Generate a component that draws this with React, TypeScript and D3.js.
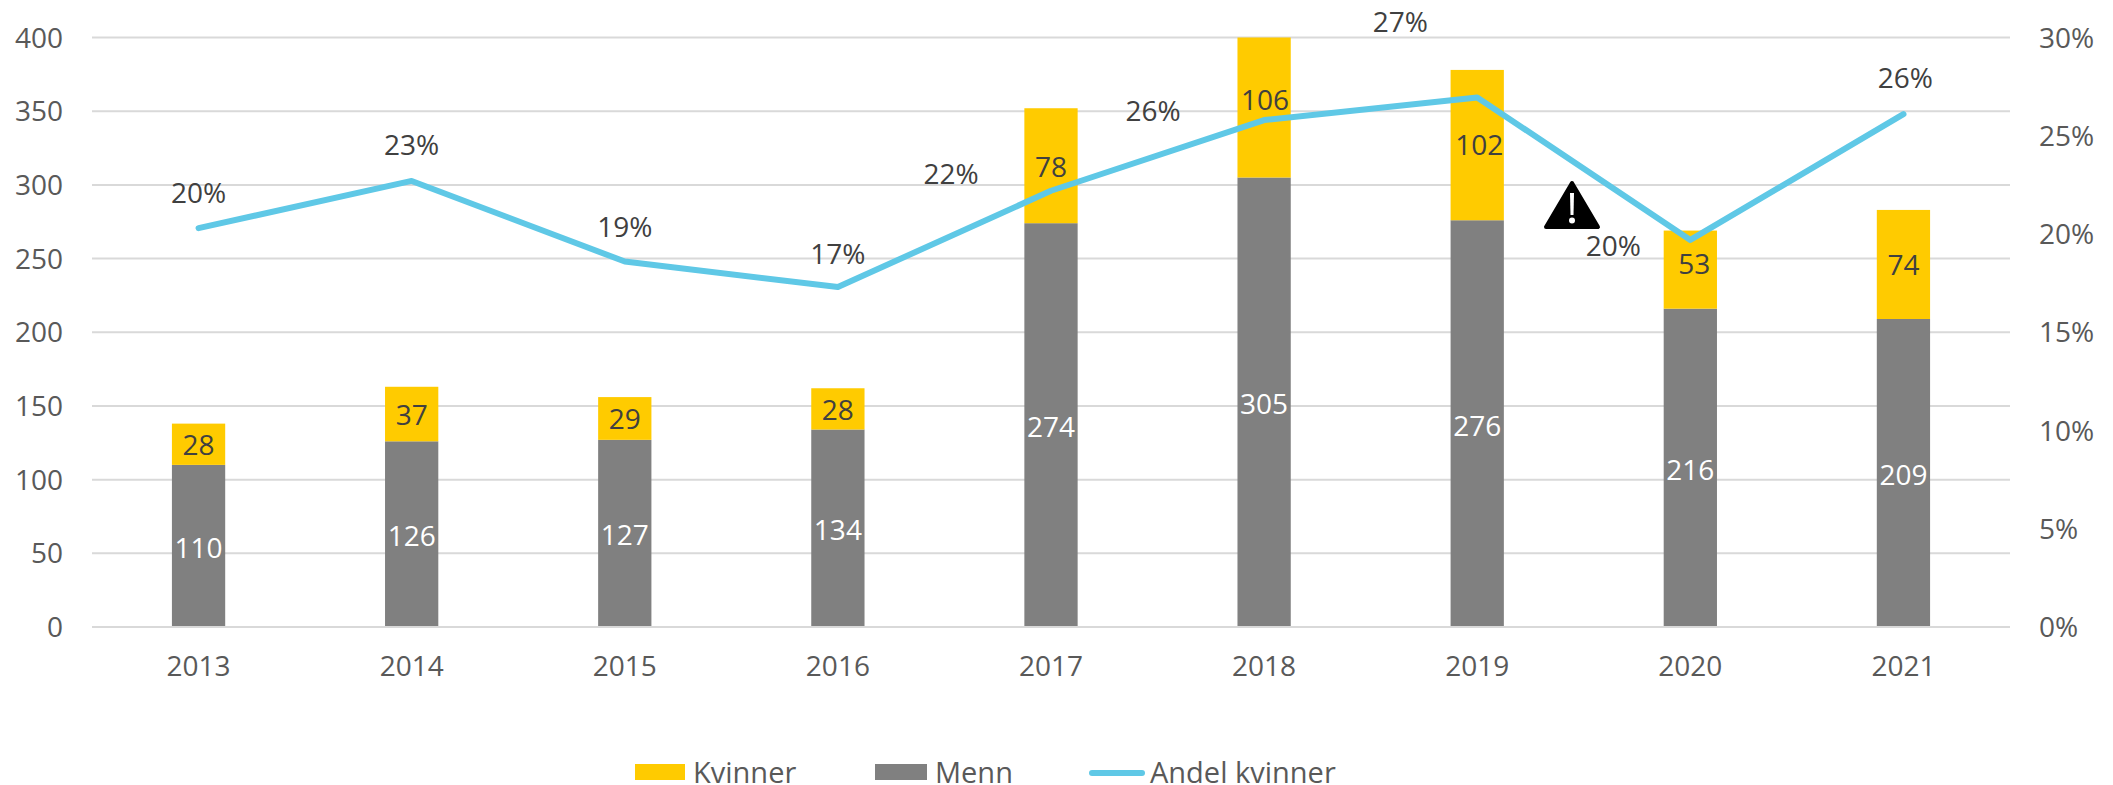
import React from "react";
import * as d3 from "d3";

const years = ["2013","2014","2015","2016","2017","2018","2019","2020","2021"];
const kvinner = [28,37,29,28,78,106,102,53,74];
const menn = [110,126,127,134,274,305,276,216,209];
const andel = [20.3,22.7,18.6,17.3,22.2,25.8,26.95,19.7,26.1];
const andelLabels = ["20%","23%","19%","17%","22%","26%","27%","20%","26%"];
const leftTicks = [0,50,100,150,200,250,300,350,400];
const rightTicks = [0,5,10,15,20,25,30];

// label placement relative to each line point / segment centre
const lineLabelDx = [0,0,0,0,-100,-111,-77,-77,2];
const lineLabelDy = [-25,-26,-25,-23,-7,1,-65,16,-26];
const kvinnerLabelDy = [11,11,11,11,11,11,10,4,11];
const kvinnerLabelDx = [0,0,0,0,0,1,2,4,0];

const W = 2113, H = 785;
const FONT = "'Open Sans', sans-serif";
const FS = 28;
const GOLD = "#FFCB00", GREY = "#808080", BLUE = "#5FC8E6", GRID = "#D9D9D9";
const AXIS_TEXT = "#595959", LABEL_TEXT = "#404040";

export default function App() {
  const x = d3.scaleBand<string>().domain(years).range([92, 2010]);
  const cx = (y: string) => (x(y) as number) + x.bandwidth() / 2;
  const barW = x.bandwidth() * 0.25;
  const yL = d3.scaleLinear().domain([0, 400]).range([627, 37.5]);
  const yClamped = d3.scaleLinear().domain([0, 400]).range([627, 37.5]).clamp(true);
  const yR = d3.scaleLinear().domain([0, 30]).range([627, 37.5]);
  const line = d3.line<number>().x((_, i) => cx(years[i])).y(d => yR(d));

  return (
    <svg width={W} height={H} viewBox={`0 0 ${W} ${H}`}
      style={{ position: "absolute", left: 0, top: 0, display: "block", background: "#fff" }}
      fontFamily={FONT} fontSize={FS}>
      {leftTicks.map(t => (
        <line key={t} x1={92} x2={2010} y1={yL(t)} y2={yL(t)} stroke={GRID} strokeWidth={2} />
      ))}
      {years.map((y, i) => (
        <g key={y}>
          <rect x={cx(y) - barW / 2} width={barW} y={yL(menn[i])} height={yL(0) - yL(menn[i]) - 1} fill={GREY} />
          <rect x={cx(y) - barW / 2} width={barW} y={yClamped(menn[i] + kvinner[i])}
            height={yL(menn[i]) - yClamped(menn[i] + kvinner[i])} fill={GOLD} />
        </g>
      ))}
      <path d={line(andel) as string} fill="none" stroke={BLUE} strokeWidth={6} strokeLinecap="round" strokeLinejoin="round" />

      {leftTicks.map(t => (
        <text key={t} x={63} y={yL(t) + 10} textAnchor="end" fill={AXIS_TEXT}>{t}</text>
      ))}
      {rightTicks.map(t => (
        <text key={t} x={2039} y={yR(t) + 10} fill={AXIS_TEXT}>{t}%</text>
      ))}
      {years.map(y => (
        <text key={y} x={cx(y)} y={676} textAnchor="middle" fill={AXIS_TEXT}>{y}</text>
      ))}

      {years.map((y, i) => (
        <g key={y} textAnchor="middle">
          <text x={cx(y)} y={yL(menn[i] / 2) + 12} fill="#fff">{menn[i]}</text>
          <text x={cx(y) + kvinnerLabelDx[i]} y={yL(menn[i] + kvinner[i] / 2) + kvinnerLabelDy[i]} fill={LABEL_TEXT}>{kvinner[i]}</text>
          <text x={cx(y) + lineLabelDx[i]} y={yR(andel[i]) + lineLabelDy[i]} fill={LABEL_TEXT}>{andelLabels[i]}</text>
        </g>
      ))}

      {/* warning sign */}
      <path d="M1572 183 L1598 227 L1546 227 Z" fill="#000" stroke="#000" strokeWidth={4} strokeLinejoin="round" />
      <path d="M1570 193 H1574 L1573.5 215 H1570.5 Z" fill="#fff" />
      <circle cx={1572} cy={220.5} r={3} fill="#fff" />

      {/* legend */}
      <g fontSize={29}>
        <rect x={635} y={764} width={50} height={16} fill={GOLD} />
        <text x={693} y={783} fill={AXIS_TEXT}>Kvinner</text>
        <rect x={875} y={764} width={52} height={16} fill={GREY} />
        <text x={935} y={783} fill={AXIS_TEXT}>Menn</text>
        <line x1={1092} x2={1142} y1={773} y2={773} stroke={BLUE} strokeWidth={6} strokeLinecap="round" />
        <text x={1150} y={783} fill={AXIS_TEXT}>Andel kvinner</text>
      </g>
    </svg>
  );
}
